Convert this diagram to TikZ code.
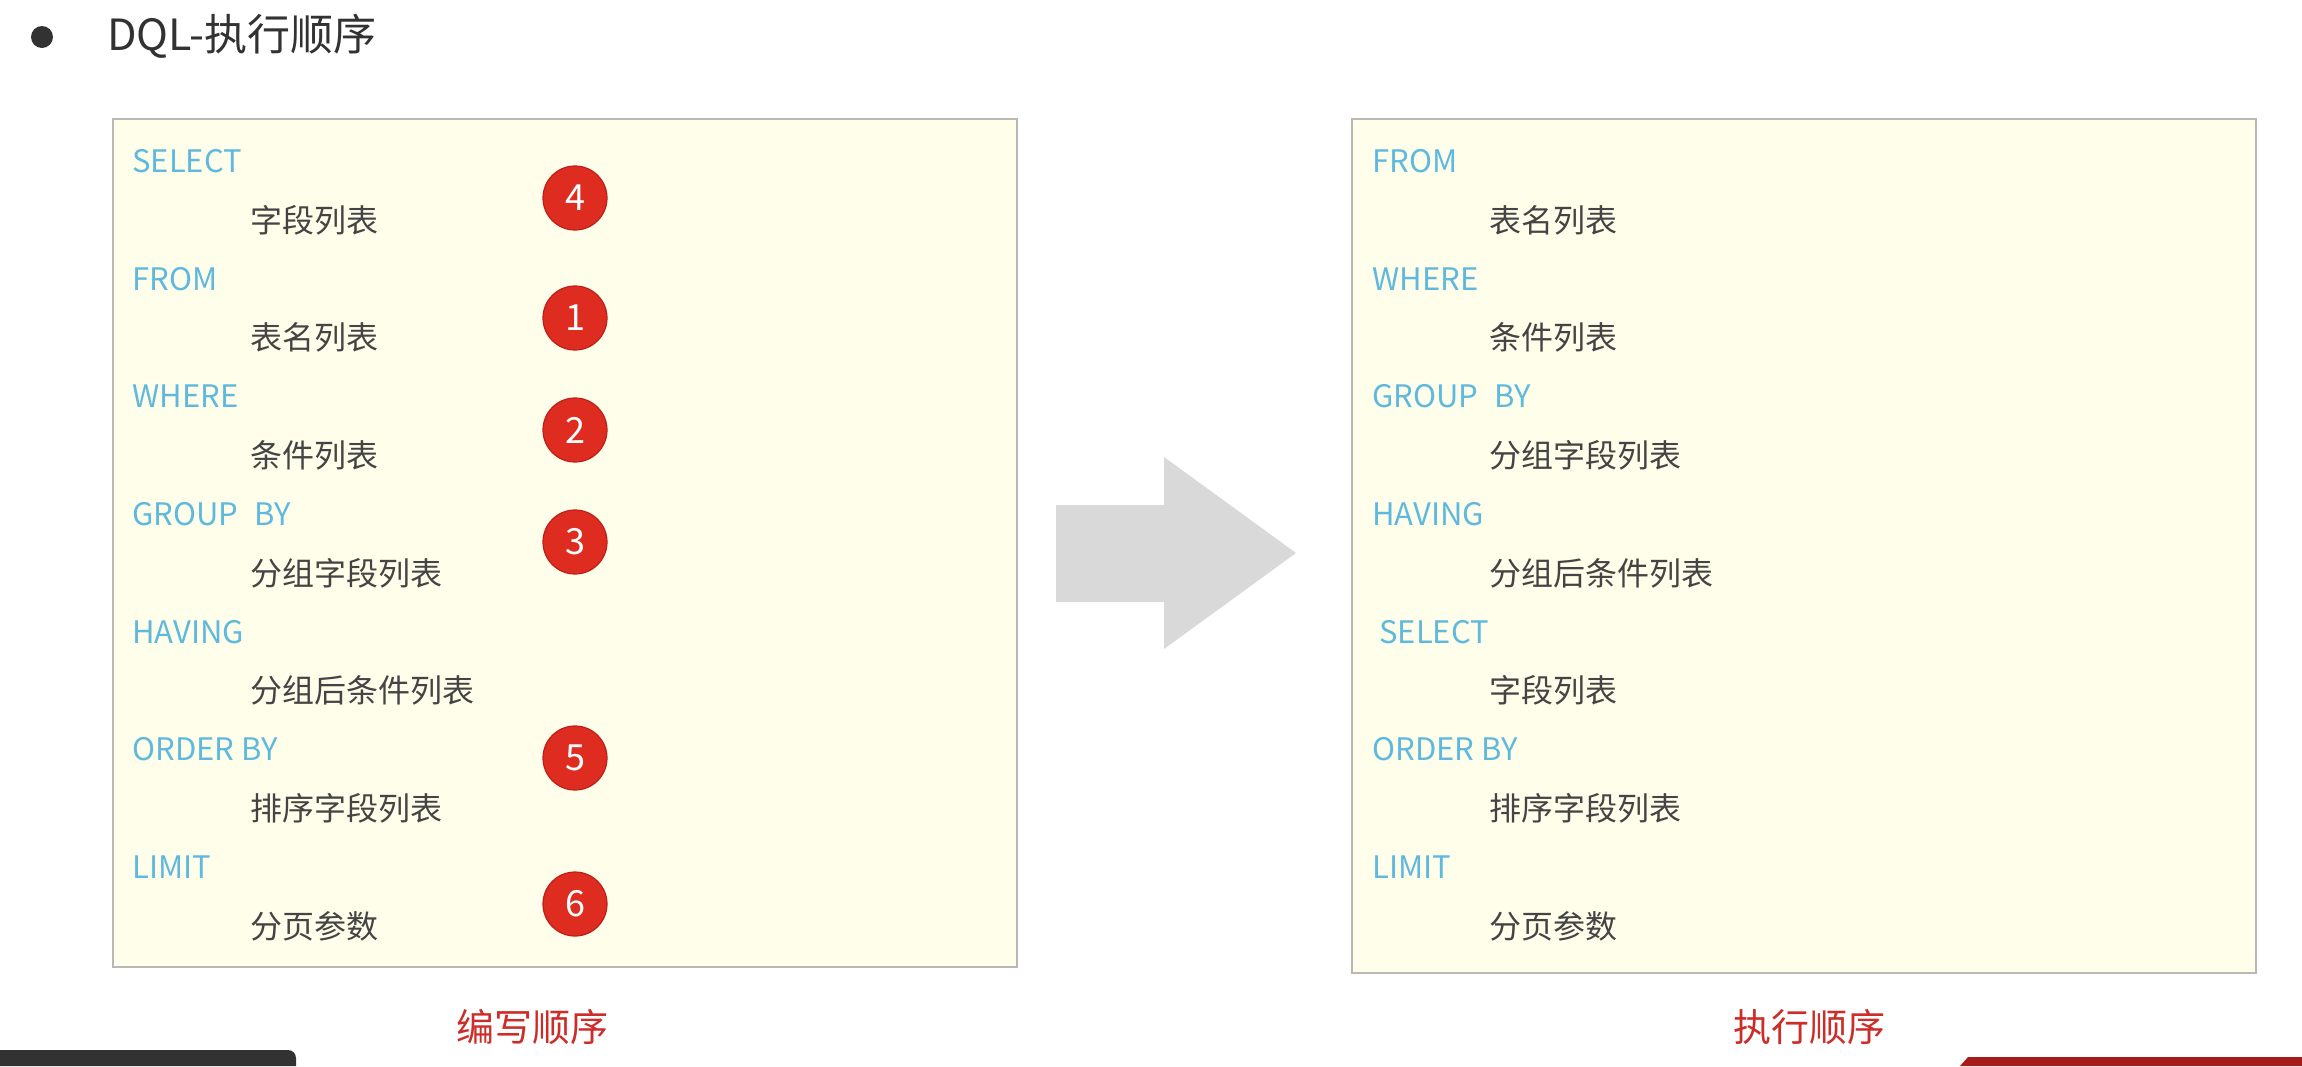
\documentclass[tikz,border=0pt]{standalone}
\usepackage{fontspec}
\setmainfont{Noto Sans CJK SC}
\definecolor{boxfill}{RGB}{255,254,234}
\definecolor{boxline}{RGB}{185,185,180}
\definecolor{kwblue}{RGB}{95,185,222}
\definecolor{txtgray}{RGB}{68,68,68}
\definecolor{badgered}{RGB}{222,45,32}
\definecolor{badgeline}{RGB}{190,30,25}
\definecolor{labelred}{RGB}{205,45,40}
\definecolor{arrowgray}{RGB}{217,217,217}
\definecolor{titlegray}{RGB}{50,50,50}
\definecolor{darkbar}{RGB}{50,50,50}
\definecolor{redbar}{RGB}{165,28,25}
\begin{document}
\begin{tikzpicture}[x=0.5pt,y=-0.5pt,
  kw/.style={anchor=west,inner sep=0pt,text=kwblue,font=\fontsize{15.5pt}{16pt}\selectfont},
  cn/.style={anchor=west,inner sep=0pt,text=txtgray,font=\fontsize{16pt}{16pt}\selectfont},
  panel/.style={draw=boxline,line width=1.2pt,fill=boxfill},
  badge/.style={circle,fill=badgered,draw=badgeline,line width=0.6pt,minimum size=32pt,inner sep=0pt,text=white,font=\fontsize{18pt}{18pt}\selectfont},
  caption/.style={inner sep=0pt,text=labelred,font=\fontsize{19pt}{19pt}\selectfont}]
\useasboundingbox (0,0) rectangle (2302,1066);
\fill[white] (0,0) rectangle (2302,1066);

% title
\fill[titlegray] (42,37) circle (11);
\node[anchor=west,inner sep=0pt,text=titlegray,font=\fontsize{21.5pt}{22pt}\selectfont] (title) at (107,36) {DQL-执行顺序};

% panels
\draw[panel] (113,119) rectangle (1017,967);
\draw[panel] (1352,119) rectangle (2256,973);

% left panel text
\node[kw] (l0) at (132,161) {SELECT};
\node[cn] (l1) at (250,219.9) {字段列表};
\node[kw] (l2) at (132,278.7) {FROM};
\node[cn] (l3) at (250,337.6) {表名列表};
\node[kw] (l4) at (132,396.4) {WHERE};
\node[cn] (l5) at (250,455.3) {条件列表};
\node[kw] (l6) at (132,514.2) {GROUP\hspace{0.3em} BY};
\node[cn] (l7) at (250,573.0) {分组字段列表};
\node[kw] (l8) at (132,631.9) {HAVING};
\node[cn] (l9) at (250,690.7) {分组后条件列表};
\node[kw] (l10) at (132,749.6) {ORDER BY};
\node[cn] (l11) at (250,808.5) {排序字段列表};
\node[kw] (l12) at (132,867.3) {LIMIT};
\node[cn] (l13) at (250,926.2) {分页参数};

% badges
\node[badge] (b4) at (575,198) {4};
\node[badge] (b1) at (575,318) {1};
\node[badge] (b2) at (575,430) {2};
\node[badge] (b3) at (575,542) {3};
\node[badge] (b5) at (575,758) {5};
\node[badge] (b6) at (575,904) {6};

% right panel text
\node[kw] (r0) at (1372,161) {FROM};
\node[cn] (r1) at (1489,219.9) {表名列表};
\node[kw] (r2) at (1372,278.7) {WHERE};
\node[cn] (r3) at (1489,337.6) {条件列表};
\node[kw] (r4) at (1372,396.4) {GROUP\hspace{0.3em} BY};
\node[cn] (r5) at (1489,455.3) {分组字段列表};
\node[kw] (r6) at (1372,514.2) {HAVING};
\node[cn] (r7) at (1489,573.0) {分组后条件列表};
\node[kw] (r8) at (1379,631.9) {SELECT};
\node[cn] (r9) at (1489,690.7) {字段列表};
\node[kw] (r10) at (1372,749.6) {ORDER BY};
\node[cn] (r11) at (1489,808.5) {排序字段列表};
\node[kw] (r12) at (1372,867.3) {LIMIT};
\node[cn] (r13) at (1489,926.2) {分页参数};

% big arrow
\fill[arrowgray] (1056,505) -- (1164,505) -- (1164,457) -- (1296,553) -- (1164,649) -- (1164,602) -- (1056,602) -- cycle;

% captions
\node[caption] (cap1) at (532,1027) {编写顺序};
\node[caption] (cap2) at (1809,1027) {执行顺序};

% bottom bars
\fill[darkbar] (0,1066) -- (0,1050) -- (288,1050) arc[start angle=-90,end angle=0,radius=8] -- (296,1066) -- cycle;
\fill[redbar] (1960,1066) -- (1968,1057) -- (2302,1057) -- (2302,1066) -- cycle;
\end{tikzpicture}
\end{document}
